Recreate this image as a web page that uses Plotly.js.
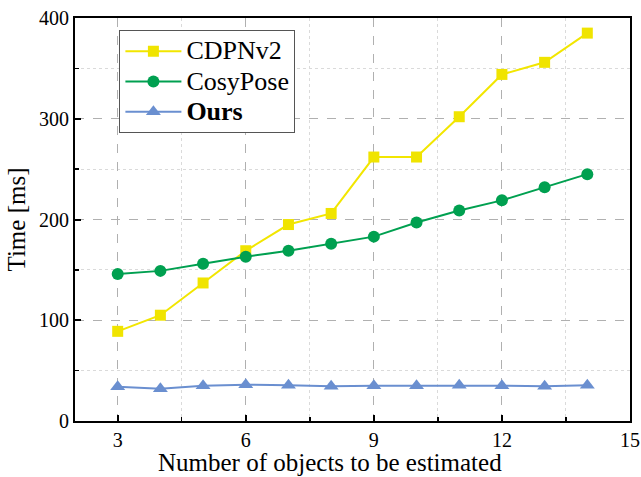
<!DOCTYPE html>
<html><head><meta charset="utf-8">
<script src="https://cdn.plot.ly/plotly-3.0.1.min.js"></script>
<style>body{margin:0;background:#fff}#c{width:641px;height:477px}</style>
</head><body><div id="c"></div>
<script>
const objects = [3,4,5,6,7,8,9,10,11,12,13,14];
const cdpnv2 = [89,105,137,169,195,206,262,262,302,344,356,385];
const cosypose = [146,149,156,163,169,176,183,197,209,219,232,245];
const ours = [34,32,35,36,35.5,34.5,35,35,35.5,35,34.5,35.5];
const xTicks = [3,6,9,12,15];
const yTicks = [0,100,200,300,400];
const xMinor = [4.5,7.5,10.5,13.5];
const yMinor = [50,150,250,350];
const names = ['CDPNv2','CosyPose','Ours'];
const xTitle = 'Number of objects to be estimated';
const yTitle = 'Time [ms]';

const font = "Liberation Serif";
const big = s => '<span style="font-size:26px">' + s + '</span>';
const traces = [
  {x:objects,y:cdpnv2,name:big(names[0]),mode:'lines+markers',
   line:{color:'#F2E600',width:2},marker:{symbol:'square',size:11,color:'#F0E400'}},
  {x:objects,y:cosypose,name:big(names[1]),mode:'lines+markers',
   line:{color:'#00A050',width:2},marker:{symbol:'circle',size:12,color:'#00A050'}},
  {x:objects,y:ours,name:'<b>' + big(names[2]) + '</b>',mode:'lines+markers',
   line:{color:'#6A8FD0',width:2},marker:{symbol:'triangle-up',size:13,color:'#6A8FD0'}}
];
const axisCommon = {
  showline:true, linecolor:'#000', linewidth:2, mirror:true,
  ticks:'inside', ticklen:6, tickwidth:2, tickcolor:'#000',
  showgrid:true, gridcolor:'#b0b0b0', griddash:'dash', gridwidth:1,
  zeroline:false, tickfont:{family:font,size:20,color:'#000'},
};
const minorCommon = {ticks:'inside',ticklen:4,tickwidth:1.5,tickcolor:'#000',showgrid:true,gridcolor:'#dadada',griddash:'dot',gridwidth:1};
const layout = {
  width:641,height:477,
  margin:{l:75,r:11,t:18,b:56},
  paper_bgcolor:'#fff',plot_bgcolor:'#fff',
  showlegend:true,
  legend:{x:0.08,y:0.97,xanchor:'left',yanchor:'top',bgcolor:'#fff',
    bordercolor:'#555',borderwidth:1,font:{family:font,size:21,color:'#000'},
    tracegroupgap:0,itemwidth:56},
  xaxis:Object.assign({},axisCommon,{range:[2,15],tickvals:xTicks,
    minor:Object.assign({tickvals:xMinor},minorCommon)}),
  yaxis:Object.assign({},axisCommon,{range:[0,400],tickvals:yTicks,
    minor:Object.assign({tickvals:yMinor},minorCommon),
    title:{text:yTitle,font:{family:font,size:25,color:'#000'},standoff:6}}),
  annotations:[{text:xTitle,xref:'paper',yref:'paper',x:0.46,y:-0.104,
    xanchor:'center',yanchor:'middle',showarrow:false,
    font:{family:font,size:25,color:'#000'}}]
};
Plotly.newPlot('c',traces,layout,{displayModeBar:false,staticPlot:true});
</script></body></html>
